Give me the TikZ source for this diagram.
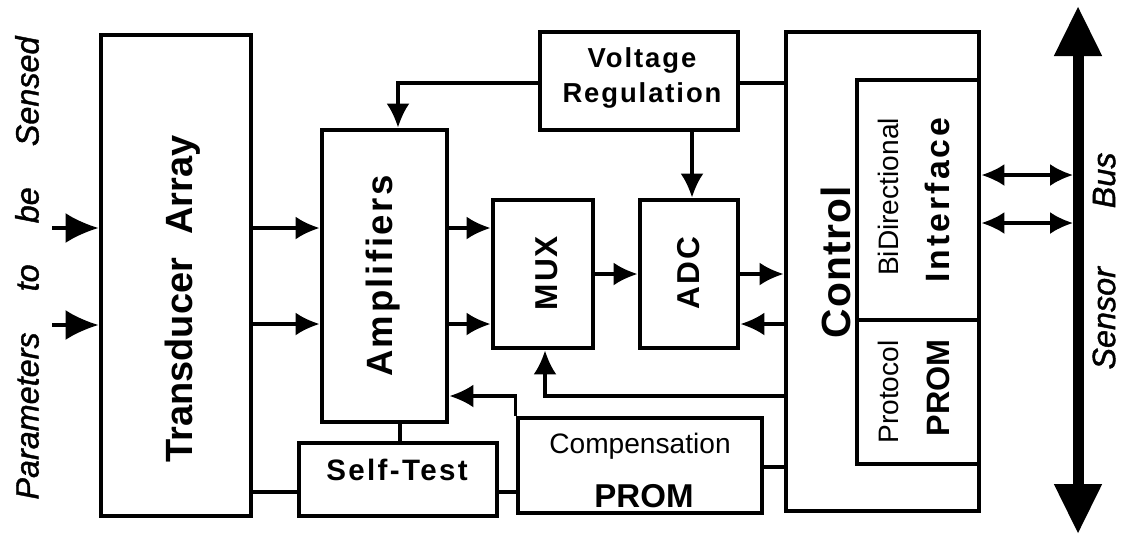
\documentclass[tikz,border=0pt]{standalone}
\usepackage{fontspec}
\setmainfont{Liberation Sans}
\usetikzlibrary{arrows.meta,fit}
\newcommand{\fs}[1]{\fontsize{#1}{#1}\selectfont}
\newcommand{\ls}[1]{\addfontfeature{LetterSpace=#1}}
\newcommand{\fb}{\addfontfeature{FakeBold=1.2}}
\begin{document}
\begin{tikzpicture}[x=0.025cm,y=-0.025cm,
  box/.style={draw, line width=3.5pt, inner sep=0pt, rectangle},
  conn/.style={line width=2.2pt},
  arr/.style={conn, -{Latex[length=0.6cm,width=0.575cm]}},
  bigarr/.style={conn, -{Latex[length=0.825cm,width=0.75cm]}},
  biarr/.style={conn, {Latex[length=0.575cm,width=0.55cm]}-{Latex[length=0.575cm,width=0.55cm]}},
  busline/.style={line width=7.8pt, {Triangle[length=1.25cm,width=1.125cm]}-{Triangle[length=1.25cm,width=1.125cm]}},
  txt/.style={inner sep=0pt, outer sep=0pt},
  vtxt/.style={txt, rotate=90},
]
\useasboundingbox (0,0) rectangle (1122,535);

% boxes
\node[box, fit={(101,35)(251,516)}] (ta) {};
\node[box, fit={(322,130)(447,422)}] (amp) {};
\node[box, fit={(540,32)(738,130)}] (vr) {};
\node[box, fit={(493,200)(593,348)}] (mux) {};
\node[box, fit={(640,200)(738,348)}] (adc) {};
\node[box, fit={(786,32)(979,511)}] (ctl) {};
\node[box, fit={(857,80)(979,320)}] (iface) {};
\node[box, fit={(857,320)(979,464)}] (pprom) {};
\node[box, fit={(299,443)(497,516)}] (st) {};
\node[box, fit={(518,418)(762,513)}] (comp) {};

% texts
\node[vtxt, font=\itshape\fs{23}\fb] (ptxt) at (27,268) {\makebox[11.575cm]{Parameters\hfill to\hfill be\hfill Sensed}};
\node[vtxt, font=\bfseries\fs{27}] (tatxt) at (183,299) {\makebox[8.175cm]{Transducer\hfill Array}};
\node[vtxt, font=\bfseries\fs{26}\ls{7}] (amptxt) at (383,276) {Amplifiers};
\node[txt, font=\bfseries\fs{19.5}\ls{7}, align=center] (vrtxt) at (642,78) {Voltage\\[6pt]Regulation};
\node[vtxt, font=\bfseries\fs{22.5}\ls{6}] (muxtxt) at (547,273) {MUX};
\node[vtxt, font=\bfseries\fs{22.5}\ls{6}] (adctxt) at (689,273) {ADC};
\node[txt, font=\bfseries\fs{21}\ls{8}] (sttxt) at (397,470) {Self-Test};
\node[txt, font=\fs{20}] (comptxt) at (640,446) {Compensation};
\node[txt, font=\bfseries\fs{23.5}] (cproml) at (644,496) {PROM};
\node[vtxt, font=\bfseries\fs{29}\ls{3}] (ctltxt) at (836,262) {Control};
\node[vtxt, font=\fs{20}] (bitxt) at (888,197) {BiDirectional};
\node[vtxt, font=\bfseries\fs{24}\ls{9}] (iftxt) at (937,200) {Interface};
\node[vtxt, font=\fs{20}] (prtxt) at (888,392) {Protocol};
\node[vtxt, font=\bfseries\fs{23}] (pptxt) at (938,388) {PROM};
\node[vtxt, font=\itshape\fs{23}\fb] (sbtxt) at (1104,261) {\makebox[5.425cm]{Sensor\hfill Bus}};

% reference rows / columns
\coordinate (in1) at (52,228);
\coordinate (in2) at (52,325);
\coordinate (r1) at (0,228);
\coordinate (r2) at (0,324);
\coordinate (r3) at (0,274);
\coordinate (r5) at (0,83);
\coordinate (r6) at (0,396);
\coordinate (r7) at (0,492);
\coordinate (r8) at (0,467);
\coordinate (r9) at (0,175);
\coordinate (r10) at (0,223);
\coordinate (c1) at (398,0);
\coordinate (c2) at (692,0);
\coordinate (c3) at (545,0);
\coordinate (c5) at (400,0);
\coordinate (bustop) at (1078,6);
\coordinate (busbot) at (1078,534);
\coordinate (busl) at (1073,0);

% sensor bus
\draw[busline] (busbot) -- (bustop);

% connectors
\draw[bigarr] (in1) -- (ta.west |- in1);
\draw[bigarr] (in2) -- (ta.west |- in2);
\draw[arr] (ta.east |- r1) -- (amp.west |- r1);
\draw[arr] (ta.east |- r2) -- (amp.west |- r2);
\draw[arr] (amp.east |- r1) -- (mux.west |- r1);
\draw[arr] (amp.east |- r2) -- (mux.west |- r2);
\draw[arr] (mux.east |- r3) -- (adc.west |- r3);
\draw[arr] (adc.east |- r3) -- (ctl.west |- r3);
\draw[arr] (ctl.west |- r2) -- (adc.east |- r2);
\draw[arr] (vr.west |- r5) -| (amp.north -| c1);
\draw[conn] (vr.east |- r5) -- (ctl.west |- r5);
\draw[arr] (vr.south -| c2) -- (adc.north -| c2);
\draw[arr] (ctl.west |- r6) -| (mux.south -| c3);
\draw[arr] (comp.north west) |- (amp.east |- r6);
\draw[conn] (amp.south -| c5) -- (st.north -| c5);
\draw[conn] (ta.east |- r7) -- (st.west |- r7);
\draw[conn] (st.east |- r7) -- (comp.west |- r7);
\draw[conn] (comp.east |- r8) -- (ctl.west |- r8);
\draw[biarr] (iface.east |- r9) -- (busl |- r9);
\draw[biarr] (iface.east |- r10) -- (busl |- r10);
\end{tikzpicture}
\end{document}
